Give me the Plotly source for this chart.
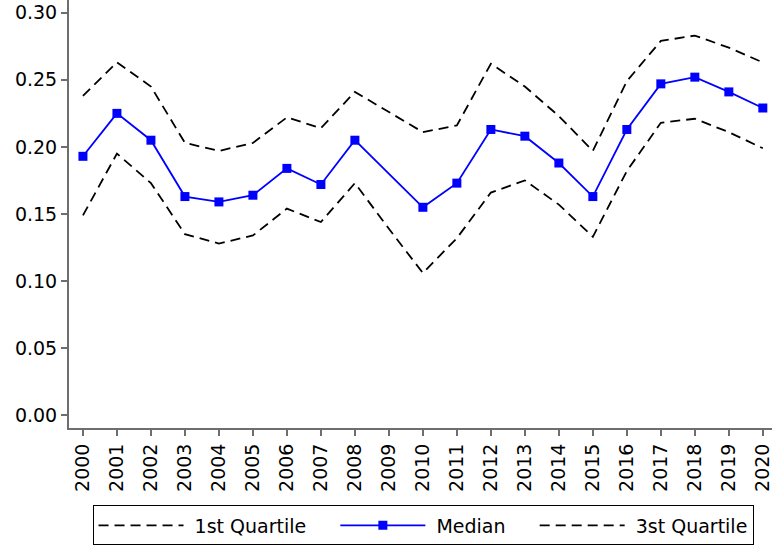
import plotly.graph_objs as go

years = [str(y) for y in range(2000, 2021)]

q1 = [0.149, 0.195, 0.173, 0.135, 0.128, 0.134, 0.154, 0.144, 0.173, 0.139, 0.106,
      0.132, 0.166, 0.175, 0.157, 0.133, 0.182, 0.218, 0.221, 0.211, 0.199]
median = [0.193, 0.225, 0.205, 0.163, 0.159, 0.164, 0.184, 0.172, 0.205, None, 0.155,
          0.173, 0.213, 0.208, 0.188, 0.163, 0.213, 0.247, 0.252, 0.241, 0.229]
q3 = [0.238, 0.263, 0.245, 0.203, 0.197, 0.203, 0.222, 0.214, 0.241, 0.226, 0.211,
      0.216, 0.262, 0.245, 0.223, 0.197, 0.249, 0.279, 0.283, 0.274, 0.263]

y_ticks = [0.00, 0.05, 0.10, 0.15, 0.20, 0.25, 0.30]

# espacio extra alrededor de los textos de la leyenda
nb = "\u00a0"

fig = go.Figure()
fig.add_trace(go.Scatter(
    x=years, y=q1, mode="lines", name=nb + "1st Quartile" + nb * 4,
    line=dict(color="black", width=1.8, dash="10px,6px")
))
fig.add_trace(go.Scatter(
    x=years, y=median, mode="lines+markers", name=nb + "Median" + nb * 4,
    connectgaps=True,
    line=dict(color="#0000ff", width=1.8),
    marker=dict(symbol="square", size=9, color="#0000ff")
))
fig.add_trace(go.Scatter(
    x=years, y=q3, mode="lines", name=nb + "3st Quartile",
    line=dict(color="black", width=1.8, dash="10px,6px")
))

axis_style = dict(
    showgrid=False, zeroline=False,
    showline=True, linecolor="#6e6e6e", linewidth=2,
    ticks="outside", ticklen=6, tickwidth=2, tickcolor="#6e6e6e",
    tickfont=dict(size=19, color="black"),
    automargin=False,
)

fig.update_xaxes(
    type="category", range=[-0.41, 20.27], tickangle=-90,
    **axis_style
)
fig.update_yaxes(
    range=[-0.0095, 0.3095], tickvals=y_ticks,
    ticktext=[f"{v:.2f}" for v in y_ticks],
    **axis_style
)

fig.update_layout(
    width=772, height=547,
    margin=dict(l=69, r=0, t=0, b=119, autoexpand=False),
    paper_bgcolor="white", plot_bgcolor="white",
    font=dict(family="DejaVu Sans", color="black", size=19),
    showlegend=True,
    legend=dict(
        orientation="h", x=0.5036, xanchor="center", y=-0.181, yanchor="top",
        bordercolor="black", borderwidth=1, font=dict(size=19),
        itemwidth=85,
    ),
)

fig.write_html(
    "out.html",
    config={"displayModeBar": False},
    post_script="document.body.style.margin='0px';",
)
